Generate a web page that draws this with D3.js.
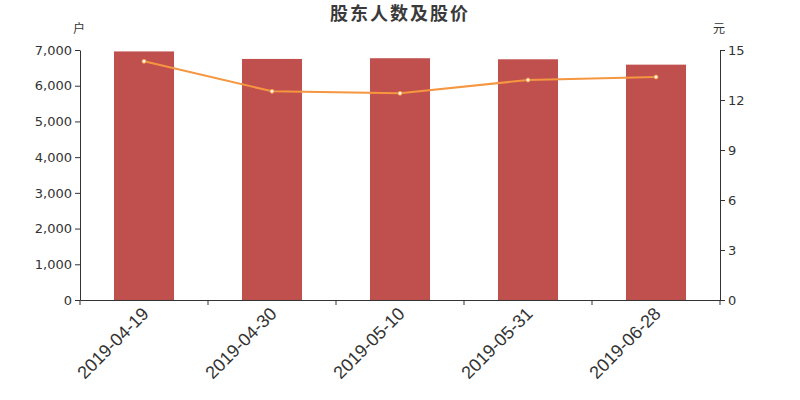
<!DOCTYPE html>
<html>
<head>
<meta charset="utf-8">
<script src="https://cdn.jsdelivr.net/npm/d3@7"></script>
<style>
  html, body { margin: 0; padding: 0; background: #fff; }
  svg { display: block; font-family: "DejaVu Sans", sans-serif; }
</style>
</head>
<body>
<svg id="chart" width="800" height="400"></svg>
<script>
const categories = ["2019-04-19", "2019-04-30", "2019-05-10", "2019-05-31", "2019-06-28"];
const holders = [6960, 6750, 6770, 6740, 6590];
const prices = [14.32, 12.52, 12.40, 13.20, 13.38];
const leftTicks = [0, 1000, 2000, 3000, 4000, 5000, 6000, 7000];
const rightTicks = [0, 3, 6, 9, 12, 15];
const title = "股东人数及股价";
const leftUnit = "户";
const rightUnit = "元";

const svg = d3.select("#chart");
const m = { left: 80, right: 80, top: 50, bottom: 100 };
const W = 800, H = 400;

const x = d3.scaleBand().domain(categories).range([m.left, W - m.right]).paddingInner(0.531).paddingOuter(0.2655);
const xb = d3.scaleBand().domain(categories).range([m.left, W - m.right]);
const yL = d3.scaleLinear().domain([0, 7000]).range([H - m.bottom, m.top]);
const yR = d3.scaleLinear().domain([0, 15]).range([H - m.bottom, m.top]);

// bars
svg.append("g").selectAll("rect").data(categories).join("rect")
  .attr("x", d => x(d))
  .attr("width", x.bandwidth())
  .attr("y", (d, i) => yL(holders[i]))
  .attr("height", (d, i) => yL(0) - yL(holders[i]))
  .attr("fill", "#c0504d");

// axes
const axisColor = "#333";
const gL = svg.append("g").attr("transform", `translate(${m.left},0)`)
  .call(d3.axisLeft(yL).tickValues(leftTicks).tickFormat(d3.format(",")).tickSize(5).tickSizeOuter(0).tickPadding(3));
const gR = svg.append("g").attr("transform", `translate(${W - m.right},0)`)
  .call(d3.axisRight(yR).tickValues(rightTicks).tickSize(5).tickSizeOuter(0).tickPadding(3));
const gB = svg.append("g").attr("transform", `translate(0,${H - m.bottom})`)
  .call(d3.axisBottom(xb).tickSize(0).tickSizeOuter(0).tickFormat(""));
[gL, gR, gB].forEach(g => {
  g.select(".domain").attr("stroke", axisColor).attr("stroke-width", 1);
  g.selectAll(".tick line").attr("stroke", axisColor);
  g.selectAll(".tick text").attr("fill", axisColor).style("font-size", "13px").style("font-family", "DejaVu Sans, sans-serif");
});
// bottom tick marks at band boundaries
const bounds = categories.map(c => xb(c)).concat([W - m.right]);
gB.selectAll(".bt").data(bounds).join("line").attr("class", "bt")
  .attr("x1", d => d).attr("x2", d => d).attr("y1", 0).attr("y2", 5).attr("stroke", axisColor);
// bottom labels
gB.selectAll(".bl").data(categories).join("text").attr("class", "bl")
  .attr("transform", d => `translate(${xb(d) + xb.bandwidth() / 2 - 3},${6}) rotate(-45)`)
  .attr("text-anchor", "end")
  .attr("dy", "0.7em")
  .attr("fill", axisColor)
  .style("font-size", "18px")
  .text(d => d);

// line
const line = d3.line().x((d, i) => xb(categories[i]) + xb.bandwidth() / 2).y(d => yR(d));
svg.append("path").datum(prices).attr("d", line)
  .attr("fill", "none").attr("stroke", "#f59640").attr("stroke-width", 2);
svg.append("g").selectAll("circle").data(prices).join("circle")
  .attr("cx", (d, i) => xb(categories[i]) + xb.bandwidth() / 2)
  .attr("cy", d => yR(d))
  .attr("r", 2)
  .attr("fill", "#fff")
  .attr("stroke", "#f59640")
  .attr("stroke-width", 1);

// title and units
svg.append("text").attr("x", 400).attr("y", 20).attr("text-anchor", "middle")
  .attr("fill", "#3a3a3a").style("font-size", "18px").style("font-weight", "bold")
  .style("letter-spacing", "2px")
  .style("font-family", "'Noto Sans CJK SC', sans-serif").text(title);
svg.append("text").attr("x", 79).attr("y", 33).attr("text-anchor", "middle")
  .attr("fill", "#333").style("font-size", "12px")
  .style("font-family", "'Noto Sans CJK SC', sans-serif").text(leftUnit);
svg.append("text").attr("x", 719).attr("y", 33).attr("text-anchor", "middle")
  .attr("fill", "#333").style("font-size", "12px")
  .style("font-family", "'Noto Sans CJK SC', sans-serif").text(rightUnit);
</script>
</body>
</html>
